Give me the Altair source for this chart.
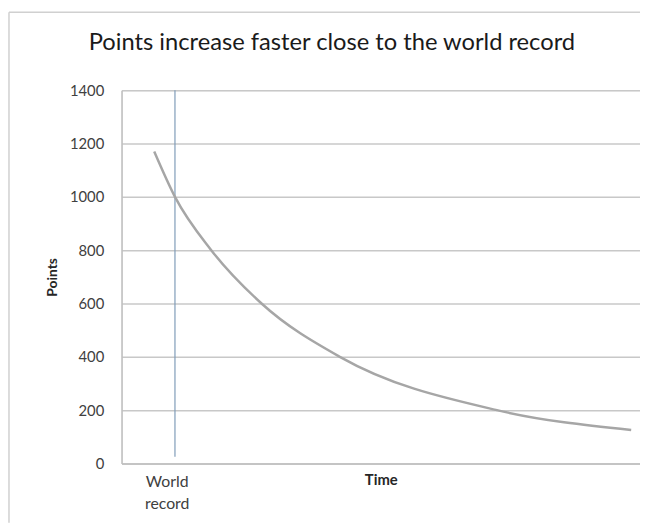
import altair as alt
import pandas as pd

# Curve (time in arbitrary units, points)
curve_time = [6.3, 10.3, 17.3, 27.0, 42.1, 72.4, 98.3]
curve_points = [1170, 1000, 800, 600, 400, 200, 126]

# World-record marker
record_time = [10.3]
record_top = [1400]
record_bottom = [25]
record_label_time = [8.8]
record_label = ["World\nrecord"]

y_ticks = [0, 200, 400, 600, 800, 1000, 1200, 1400]

title_text = "Points increase faster close to the world record"

FONT = "Lato"
W, H = 525, 378

curve_df = pd.DataFrame({"time": curve_time, "points": curve_points})
rec_df = pd.DataFrame({"time": record_time, "top": record_top, "bottom": record_bottom})
lab_df = pd.DataFrame({"time": record_label_time, "label": record_label})

x_scale = alt.Scale(domain=[0, 100], nice=False, zero=False)
y_scale = alt.Scale(domain=[0, 1400], nice=False)

line = alt.Chart(curve_df).mark_line(
    interpolate="monotone", color="#a6a6a6", strokeWidth=2.5
).encode(
    x=alt.X("time:Q", scale=x_scale,
            axis=alt.Axis(title="Time", labels=False, ticks=False, grid=False,
                          domainColor="#bfbfbf", domainWidth=1.5,
                          titleFont=FONT, titleFontSize=15, titleFontWeight="bold",
                          titleColor="#262626", titlePadding=9)),
    y=alt.Y("points:Q", scale=y_scale,
            axis=alt.Axis(title="Points", values=y_ticks, ticks=False, format="d",
                          grid=True, gridColor="#c8c8c8", gridWidth=1.5,
                          domainColor="#bfbfbf", domainWidth=1.5,
                          labelFont=FONT, labelFontSize=15, labelColor="#404040",
                          labelPadding=18,
                          titleFont=FONT, titleFontSize=14, titleFontWeight="bold",
                          titleColor="#262626", titlePadding=10)),
)

rule = alt.Chart(rec_df).mark_rule(color="#7f9bb8", strokeWidth=1.2).encode(
    x=alt.X("time:Q", scale=x_scale),
    y=alt.Y("top:Q", scale=y_scale),
    y2="bottom:Q",
)

rec_label = alt.Chart(lab_df).mark_text(
    font=FONT, fontSize=16, color="#404040", align="center", baseline="top",
    lineBreak="\n", lineHeight=22
).encode(
    x=alt.X("time:Q", scale=x_scale),
    y=alt.value(H + 11),
    text="label:N",
)

title = alt.Chart(pd.DataFrame({"t": [title_text]})).mark_text(
    font=FONT, fontSize=24, color="#1a1a1a", align="center", baseline="middle"
).encode(x=alt.value(213), y=alt.value(-48), text="t:N")

border_left = alt.Chart(pd.DataFrame({"a": [0]})).mark_rule(
    color="#d0d0d0", strokeWidth=1.5
).encode(x=alt.value(-114), y=alt.value(-79), y2=alt.value(H + 60))
border_top = alt.Chart(pd.DataFrame({"a": [0]})).mark_rule(
    color="#d0d0d0", strokeWidth=1.5
).encode(x=alt.value(-114), x2=alt.value(W + 10), y=alt.value(-79))

chart = alt.layer(rule, line, rec_label, title, border_left, border_top).properties(
    width=W, height=H,
    autosize=alt.AutoSizeParams(type="none"),
    padding={"left": 115, "top": 80, "right": 0, "bottom": 57},
).configure_view(stroke=None).configure(background="white")

chart.save("out.html", embed_options={"renderer": "svg", "actions": False})
